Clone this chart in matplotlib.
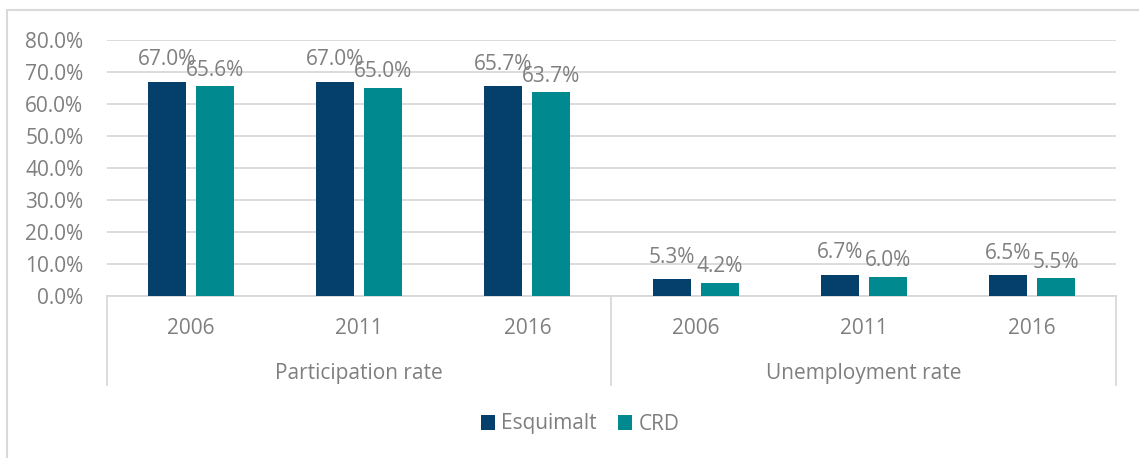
import matplotlib
matplotlib.use('Agg')
import matplotlib.pyplot as plt
from matplotlib.patches import Rectangle
from matplotlib.transforms import blended_transform_factory

years = ['2006', '2011', '2016', '2006', '2011', '2016']
groups = ['Participation rate', 'Unemployment rate']
esquimalt = [67.0, 67.0, 65.7, 5.3, 6.7, 6.5]
crd = [65.6, 65.0, 63.7, 4.2, 6.0, 5.5]

navy = '#053F6B'
teal = '#008A8F'
grey = '#7F7F7F'
line_grey = '#D9D9D9'
fs = 15

plt.rcParams['font.family'] = ['Open Sans', 'DejaVu Sans']

fig = plt.figure(figsize=(11.39, 4.58), dpi=100)
ax = fig.add_axes([107 / 1139, (458 - 296) / 458, (1116 - 107) / 1139, 256 / 458])

# outer chart frame (cropped on the right and bottom)
fig.patches.append(Rectangle((7 / 1139, -0.1), 1.2, (458 - 10) / 458 + 0.1,
                             transform=fig.transFigure, fill=False,
                             edgecolor=line_grey, linewidth=1.5))

x = list(range(len(years)))
w = 0.226
off = 0.143
b1 = ax.bar([i - off for i in x], esquimalt, w, color=navy, label='Esquimalt', zorder=3)
b2 = ax.bar([i + off for i in x], crd, w, color=teal, label='CRD', zorder=3)

# Excel put the first series' labels a little higher than the second's
for bars, vals, dy in [(b1, esquimalt, 8), (b2, crd, 4)]:
    for rect, v in zip(bars, vals):
        ax.annotate('{:.1f}%'.format(v), (rect.get_x() + rect.get_width() / 2, v),
                    xytext=(0, dy), textcoords='offset points', ha='center', va='bottom',
                    fontsize=fs, color=grey, zorder=4)

ax.set_xlim(-0.5, 5.5)
ax.set_ylim(0, 80)
ax.set_yticks(range(0, 81, 10))
ax.set_yticklabels(['{:.1f}%'.format(v) for v in range(0, 81, 10)])
ax.yaxis.grid(True, color=line_grey, linewidth=1.3, zorder=0)
ax.set_axisbelow(True)
for s in ['top', 'right', 'left']:
    ax.spines[s].set_visible(False)
ax.spines['bottom'].set_color(line_grey)
ax.spines['bottom'].set_linewidth(1.3)
ax.tick_params(axis='y', length=0, labelsize=fs, labelcolor=grey, pad=17)
ax.set_xticks(x)
ax.set_xticklabels(years)
ax.tick_params(axis='x', length=0, labelsize=fs, labelcolor=grey, pad=16)

# second level category labels and separators
trans = blended_transform_factory(ax.transData, ax.transAxes)
for xs in [-0.5, 2.5, 5.5]:
    ax.plot([xs, xs], [0, -89 / 256], transform=trans, color=line_grey,
            linewidth=1.3, clip_on=False)
for i, g in enumerate(groups):
    ax.text(1 + 3 * i, -78 / 256, g, transform=trans, ha='center', va='center',
            fontsize=fs, color=grey)

fig.legend(handles=[b1, b2], loc='center', bbox_to_anchor=(580 / 1139, (458 - 424) / 458),
           ncol=2, frameon=False, fontsize=fs, labelcolor=grey, handlelength=0.7,
           handleheight=0.7, columnspacing=1.0, handletextpad=0.3)

fig.savefig('out.png', dpi=100)
